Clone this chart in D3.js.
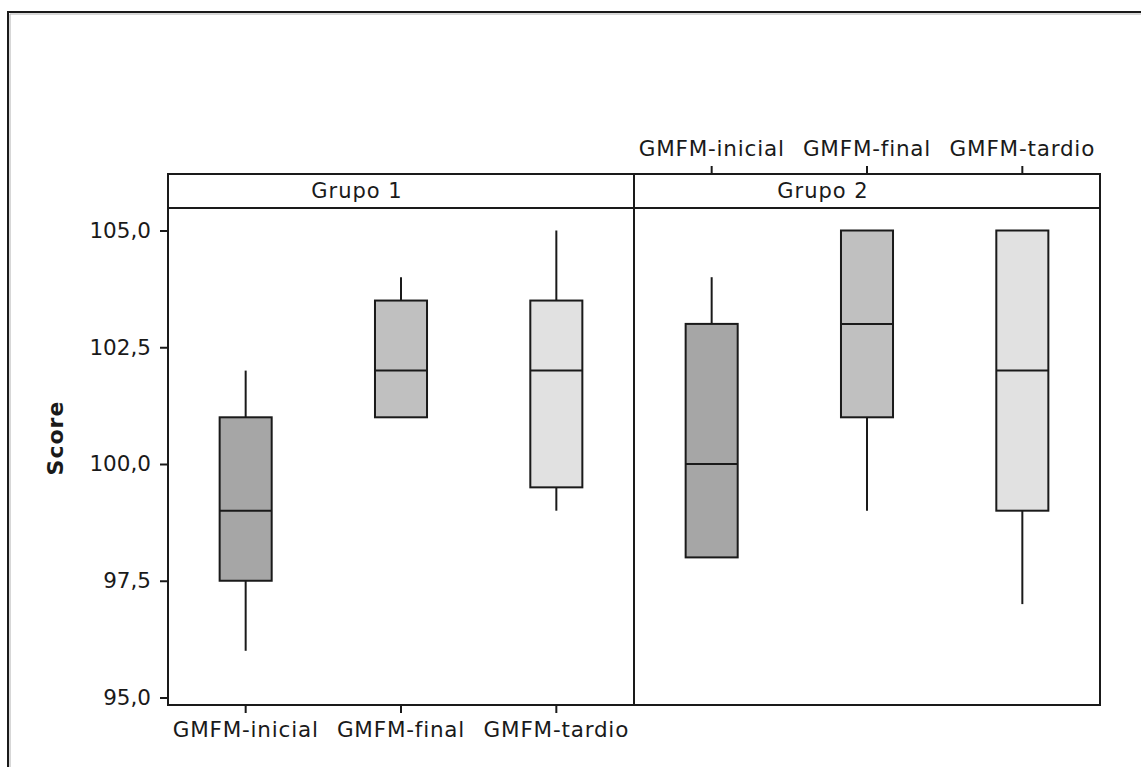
<!DOCTYPE html>
<html>
<head>
<meta charset="utf-8">
<script src="https://cdn.jsdelivr.net/npm/d3@7"></script>
<style>
  html, body { margin: 0; padding: 0; background: #ffffff; }
  svg { display: block; }
  text { font-family: "DejaVu Sans", Verdana, sans-serif; fill: #1a1a1a; }
</style>
</head>
<body>
<svg id="chart" width="1141" height="767"></svg>
<script>
// Panels and categories
const groups = ["Grupo 1", "Grupo 2"];
const categories = ["GMFM-inicial", "GMFM-final", "GMFM-tardio"];
const fills = ["#a6a6a6", "#c0c0c0", "#e1e1e1"];

// Box-plot statistics per panel, one entry per category
const whiskerLow = [[96, 101, 99], [98, 99, 97]];
const q1         = [[97.5, 101, 99.5], [98, 101, 99]];
const median     = [[99, 102, 102], [100, 103, 102]];
const q3         = [[101, 103.5, 103.5], [103, 105, 105]];
const whiskerHigh= [[102, 104, 105], [104, 105, 105]];

const yTicks = [95, 97.5, 100, 102.5, 105];

const svg = d3.select("#chart");
const ink = "#1a1a1a";
const fontFamily = '"DejaVu Sans", Verdana, sans-serif';

// Outer frame (only top and left edges fall inside the view)
svg.append("path")
  .attr("d", "M8,780 L8,12 L1160,12")
  .attr("fill", "none").attr("stroke", ink).attr("stroke-width", 2);
svg.append("path")
  .attr("d", "M10,780 L10,14 L1160,14")
  .attr("fill", "none").attr("stroke", "#b0b0b0").attr("stroke-width", 1);

const left = 168, right = 1100, stripTop = 174, stripBottom = 208, bottom = 705;

const x = d3.scaleBand().domain(groups).range([left, right]);
const xc = d3.scaleBand().domain(categories).range([0, x.bandwidth()]);
const y = d3.scaleLinear().domain([95, 105]).range([697.5, 230.5]);
const boxW = xc.bandwidth() * 0.335;

// Panels
groups.forEach((g, gi) => {
  const gx = x(g);
  const panel = svg.append("g").attr("transform", `translate(${gx},0)`);

  categories.forEach((c, ci) => {
    const cx = xc(c) + xc.bandwidth() / 2;
    // whiskers
    if (whiskerHigh[gi][ci] > q3[gi][ci]) {
      panel.append("line")
        .attr("x1", cx).attr("x2", cx)
        .attr("y1", y(whiskerHigh[gi][ci])).attr("y2", y(q3[gi][ci]))
        .attr("stroke", ink).attr("stroke-width", 2);
    }
    if (whiskerLow[gi][ci] < q1[gi][ci]) {
      panel.append("line")
        .attr("x1", cx).attr("x2", cx)
        .attr("y1", y(q1[gi][ci])).attr("y2", y(whiskerLow[gi][ci]))
        .attr("stroke", ink).attr("stroke-width", 2);
    }
    // box
    panel.append("rect")
      .attr("x", cx - boxW / 2).attr("width", boxW)
      .attr("y", y(q3[gi][ci])).attr("height", y(q1[gi][ci]) - y(q3[gi][ci]))
      .attr("fill", fills[ci]).attr("stroke", ink).attr("stroke-width", 2);
    // median
    panel.append("line")
      .attr("x1", cx - boxW / 2).attr("x2", cx + boxW / 2)
      .attr("y1", y(median[gi][ci])).attr("y2", y(median[gi][ci]))
      .attr("stroke", ink).attr("stroke-width", 2);
  });

  // strip label
  panel.append("text")
    .attr("x", x.bandwidth() / 2 - 44).attr("y", 198)
    .attr("text-anchor", "middle").attr("font-size", 21)
    .attr("letter-spacing", 1)
    .text(g);
});

// Frame of the plot area, strip and panel divider
svg.append("rect")
  .attr("x", left).attr("y", stripTop)
  .attr("width", right - left).attr("height", bottom - stripTop)
  .attr("fill", "none").attr("stroke", ink).attr("stroke-width", 2);
svg.append("line")
  .attr("x1", left).attr("x2", right).attr("y1", stripBottom).attr("y2", stripBottom)
  .attr("stroke", ink).attr("stroke-width", 2);
svg.append("line")
  .attr("x1", x(groups[1])).attr("x2", x(groups[1])).attr("y1", stripTop).attr("y2", bottom)
  .attr("stroke", ink).attr("stroke-width", 2);

// Y axis
const yAxis = d3.axisLeft(y).tickValues(yTicks).tickSize(8).tickPadding(9)
  .tickFormat(d => d3.format(".1f")(d).replace(".", ","));
const ya = svg.append("g").attr("transform", `translate(${left},0)`).call(yAxis);
ya.select(".domain").remove();
ya.selectAll(".tick line").attr("stroke", ink).attr("stroke-width", 2);
ya.selectAll(".tick text").attr("font-size", 21.5).attr("fill", ink)
  .style("font-family", fontFamily);

// Bottom axis under the first panel
const xb = d3.scaleBand().domain(categories).range([x(groups[0]), x(groups[0]) + x.bandwidth()]);
const xbAxis = d3.axisBottom(xb).tickSize(8).tickPadding(9);
const xa = svg.append("g").attr("transform", `translate(0,${bottom})`).call(xbAxis);
xa.select(".domain").remove();
xa.selectAll(".tick line").attr("stroke", ink).attr("stroke-width", 2);
xa.selectAll(".tick text").attr("font-size", 21.5).attr("fill", ink)
  .attr("letter-spacing", 0.8)
  .style("font-family", fontFamily);

// Top axis above the second panel
const xt = d3.scaleBand().domain(categories).range([x(groups[1]), x(groups[1]) + x.bandwidth()]);
const xtAxis = d3.axisTop(xt).tickSize(8).tickPadding(10);
const xta = svg.append("g").attr("transform", `translate(0,${stripTop})`).call(xtAxis);
xta.select(".domain").remove();
xta.selectAll(".tick line").attr("stroke", ink).attr("stroke-width", 2);
xta.selectAll(".tick text").attr("font-size", 21.5).attr("fill", ink)
  .attr("letter-spacing", 0.8)
  .style("font-family", fontFamily);

// Y title
svg.append("text")
  .attr("transform", "translate(63,438) rotate(-90)")
  .attr("text-anchor", "middle").attr("font-size", 22).attr("font-weight", "bold")
  .attr("letter-spacing", 1)
  .text("Score");
</script>
</body>
</html>
